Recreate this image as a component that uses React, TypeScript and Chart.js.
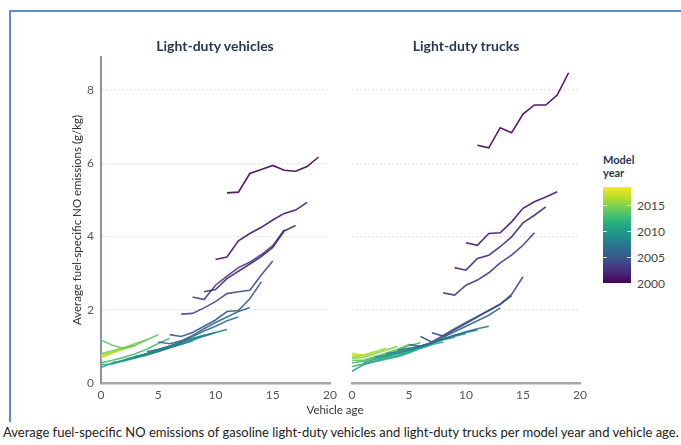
import React, { useEffect, useRef } from "react";
import { Chart, registerables } from "chart.js";

Chart.register(...registerables);

const FONT = "Lato, 'Open Sans', sans-serif";

// Model years and the vehicle age at which each model year's record begins
const MODEL_YEARS = [2000, 2001, 2002, 2003, 2004, 2005, 2006, 2007, 2008, 2009, 2010, 2011, 2012, 2013, 2014, 2015, 2016, 2017, 2018];
const START_AGE = [11, 10, 9, 8, 7, 6, 5, 4, 3, 2, 1, 0, 0, 0, 0, 0, 0, 0, 0];

// Y-axis tick values and x-axis tick step
const Y_TICKS = [0, 2, 4, 6, 8];
const X_TICKS = [0, 5, 10, 15, 20];
const COLORBAR_TICKS = [2015, 2010, 2005, 2000];

// Light-duty vehicles: g/kg NO by age (starting at START_AGE)
const LDV_2000 = [5.19, 5.21, 5.72, 5.83, 5.94, 5.81, 5.78, 5.91, 6.17];
const LDV_2001 = [3.37, 3.44, 3.88, 4.08, 4.25, 4.45, 4.63, 4.72, 4.93];
const LDV_2002 = [2.49, 2.55, 2.85, 3.05, 3.25, 3.45, 3.7, 4.15, 4.3];
const LDV_2003 = [2.35, 2.28, 2.67, 2.92, 3.15, 3.3, 3.5, 3.75, 4.18];
const LDV_2004 = [1.88, 1.9, 2.05, 2.22, 2.44, 2.49, 2.53, 2.95, 3.33];
const LDV_2005 = [1.32, 1.27, 1.38, 1.55, 1.72, 1.95, 1.98, 2.3, 2.76];
const LDV_2006 = [1.12, 1.07, 1.15, 1.3, 1.48, 1.65, 1.8, 1.95, 2.06];
const LDV_2007 = [0.85, 0.92, 1.0, 1.12, 1.27, 1.42, 1.55, 1.7, 1.8];
const LDV_2008 = [0.72, 0.78, 0.86, 0.96, 1.06, 1.17, 1.28, 1.38, 1.46];
const LDV_2009 = [0.63, 0.7, 0.8, 0.9, 1.0, 1.1, 1.22, 1.3, 1.38];
const LDV_2010 = [0.55, 0.62, 0.72, 0.8, 0.9, 1.0, 1.12, 1.2, 1.3];
const LDV_2011 = [0.42, 0.55, 0.6, 0.68, 0.76, 0.86, 0.96, 1.06, 1.15];
const LDV_2012 = [0.5, 0.52, 0.62, 0.7, 0.8, 0.9, 1.0, 1.1];
const LDV_2013 = [0.55, 0.62, 0.7, 0.8, 0.92, 1.08, 1.22];
const LDV_2014 = [1.17, 1.03, 0.94, 1.03, 1.18, 1.32];
const LDV_2015 = [0.8, 0.88, 0.97, 1.08, 1.18];
const LDV_2016 = [0.75, 0.85, 0.95, 1.02];
const LDV_2017 = [0.7, 0.82, 0.92];
const LDV_2018 = [0.68, 0.82];

// Light-duty trucks
const LDT_2000 = [6.49, 6.42, 6.97, 6.83, 7.34, 7.59, 7.59, 7.86, 8.47];
const LDT_2001 = [3.83, 3.76, 4.08, 4.1, 4.4, 4.77, 4.95, 5.08, 5.22];
const LDT_2002 = [3.15, 3.08, 3.4, 3.49, 3.72, 3.99, 4.37, 4.58, 4.81];
const LDT_2003 = [2.46, 2.4, 2.67, 2.81, 3.01, 3.28, 3.49, 3.76, 4.1];
const LDT_2004 = [1.37, 1.28, 1.45, 1.62, 1.8, 1.98, 2.15, 2.42, 2.9];
const LDT_2005 = [1.27, 1.12, 1.3, 1.48, 1.65, 1.82, 1.98, 2.15, 2.38];
const LDT_2006 = [1.05, 1.0, 1.1, 1.25, 1.4, 1.55, 1.7, 1.85, 2.05];
const LDT_2007 = [0.9, 0.95, 1.0, 1.1, 1.2, 1.3, 1.4, 1.48, 1.55];
const LDT_2008 = [0.8, 0.85, 0.92, 1.0, 1.1, 1.2, 1.3, 1.38, 1.45];
const LDT_2009 = [0.7, 0.76, 0.82, 0.9, 1.0, 1.1, 1.2, 1.28, 1.35];
const LDT_2010 = [0.55, 0.65, 0.72, 0.8, 0.88, 0.98, 1.08, 1.18, 1.25];
const LDT_2011 = [0.32, 0.5, 0.6, 0.68, 0.75, 0.85, 0.95, 1.05, 1.12];
const LDT_2012 = [0.45, 0.52, 0.58, 0.65, 0.72, 0.82, 0.95, 1.05];
const LDT_2013 = [0.55, 0.6, 0.68, 0.78, 0.88, 1.02, 1.1];
const LDT_2014 = [0.62, 0.62, 0.72, 0.82, 0.92, 1.05];
const LDT_2015 = [0.68, 0.7, 0.8, 0.9, 1.0];
const LDT_2016 = [0.72, 0.75, 0.85, 0.95];
const LDT_2017 = [0.78, 0.76, 0.86];
const LDT_2018 = [0.82, 0.75];

const LDV_SERIES = [LDV_2000, LDV_2001, LDV_2002, LDV_2003, LDV_2004, LDV_2005, LDV_2006, LDV_2007, LDV_2008, LDV_2009, LDV_2010, LDV_2011, LDV_2012, LDV_2013, LDV_2014, LDV_2015, LDV_2016, LDV_2017, LDV_2018];
const LDT_SERIES = [LDT_2000, LDT_2001, LDT_2002, LDT_2003, LDT_2004, LDT_2005, LDT_2006, LDT_2007, LDT_2008, LDT_2009, LDT_2010, LDT_2011, LDT_2012, LDT_2013, LDT_2014, LDT_2015, LDT_2016, LDT_2017, LDT_2018];

const VIRIDIS = ["#440154", "#482475", "#414487", "#355f8d", "#2a788e", "#21918c", "#22a884", "#44bf70", "#7ad151", "#bddf26", "#fde725"];
const YEAR_MIN = 2000;
const YEAR_MAX = 2018.5;

function hexToRgb(h: string) {
  return [parseInt(h.slice(1, 3), 16), parseInt(h.slice(3, 5), 16), parseInt(h.slice(5, 7), 16)];
}

function viridis(t: number, alpha = 1) {
  const c = Math.max(0, Math.min(1, t)) * (VIRIDIS.length - 1);
  const i = Math.min(VIRIDIS.length - 2, Math.floor(c));
  const f = c - i;
  const a = hexToRgb(VIRIDIS[i]);
  const b = hexToRgb(VIRIDIS[i + 1]);
  const r = a.map((v, k) => Math.round(v + (b[k] - v) * f));
  return `rgba(${r[0]},${r[1]},${r[2]},${alpha})`;
}

function buildDatasets(series: number[][]) {
  return series.map((vals, i) => ({
    label: String(MODEL_YEARS[i]),
    data: vals.map((v, j) => ({ x: START_AGE[i] + j, y: v })),
    borderColor: viridis((MODEL_YEARS[i] - YEAR_MIN) / (YEAR_MAX - YEAR_MIN), 0.9),
    borderWidth: 1.6,
    pointRadius: 0,
    fill: false,
    tension: 0,
  }));
}

function makeOptions(isLeft: boolean): any {
  return {
    animation: false,
    responsive: false,
    maintainAspectRatio: false,
    layout: { padding: { top: 57, right: isLeft ? 15 : 20, bottom: 0, left: 0 } },
    plugins: { legend: { display: false }, tooltip: { enabled: false }, title: { display: false } },
    scales: {
      x: {
        type: "linear",
        min: 0,
        max: 20,
        afterBuildTicks: (s: any) => {
          s.ticks = X_TICKS.map((v) => ({ value: v }));
        },
        ticks: { color: "#555", font: { family: FONT, size: 12 }, padding: 5, maxRotation: 0 },
        grid: { display: false, drawTicks: false },
        border: { display: true, color: "#a8a8a8", width: 2.5 },
        afterFit: (s: any) => {
          s.height = 37;
        },
      },
      y: {
        type: "linear",
        min: 0,
        max: 8.9,
        afterBuildTicks: (s: any) => {
          s.ticks = Y_TICKS.map((v) => ({ value: v }));
        },
        ticks: { display: isLeft, color: "#555", font: { family: FONT, size: 12 }, padding: 7 },
        grid: {
          drawTicks: false,
          lineWidth: 1.2,
          color: (ctx: any) => (ctx.tick && ctx.tick.value === 0 ? "rgba(0,0,0,0)" : "#dcdcdc"),
        },
        border: { display: isLeft, color: "#8c93a6", width: 2, dash: [1.5, 2.5] },
        title: {
          display: isLeft,
          text: "Average fuel-specific NO emissions (g/kg)",
          color: "#333",
          font: { family: FONT, size: 11.5 },
          padding: { top: 70, bottom: 0 },
        },
        afterFit: (s: any) => {
          s.width = isLeft ? 101 : 12;
        },
      },
    },
  };
}

function Panel({ series, isLeft, left, width }: { series: number[][]; isLeft: boolean; left: number; width: number }) {
  const ref = useRef<HTMLCanvasElement | null>(null);
  useEffect(() => {
    if (!ref.current) return;
    const chart = new Chart(ref.current, {
      type: "line",
      data: { datasets: buildDatasets(series) as any },
      options: makeOptions(isLeft),
    });
    return () => chart.destroy();
  }, []);
  return (
    <canvas
      ref={ref}
      width={width}
      height={420}
      style={{ position: "absolute", left, top: 0, width, height: 420 }}
    />
  );
}

const CB_TOP = 187;
const CB_BOTTOM = 283;
const CB_LEFT = 603;
const CB_WIDTH = 28;

function yearToY(y: number) {
  return CB_BOTTOM - ((y - YEAR_MIN) / (YEAR_MAX - YEAR_MIN)) * (CB_BOTTOM - CB_TOP);
}

export default function App() {
  const gradient = `linear-gradient(to top, ${VIRIDIS.join(", ")})`;
  const textBase: React.CSSProperties = { position: "absolute", fontFamily: FONT, whiteSpace: "nowrap" };
  return (
    <div style={{ position: "fixed", left: 0, top: 0, width: 681, height: 445, background: "#fff", overflow: "hidden" }}>
      {/* frame */}
      <div style={{ position: "absolute", left: 9, top: 10, width: 2, height: 412, background: "#5b8bd0" }} />
      <div style={{ position: "absolute", left: 9, top: 10, width: 672, height: 2, background: "#5b8bd0" }} />

      <Panel series={LDV_SERIES} isLeft={true} left={0} width={345} />
      <Panel series={LDT_SERIES} isLeft={false} left={340} width={260} />

      <div style={{ ...textBase, left: 215, top: 45, transform: "translate(-50%, -50%)", fontSize: 14, fontWeight: 700, color: "#2b3650" }}>
        Light-duty vehicles
      </div>
      <div style={{ ...textBase, left: 466, top: 45, transform: "translate(-50%, -50%)", fontSize: 14, fontWeight: 700, color: "#2b3650" }}>
        Light-duty trucks
      </div>
      <div style={{ ...textBase, left: 335, top: 409, transform: "translate(-50%, -50%)", fontSize: 11.5, color: "#333" }}>
        Vehicle age
      </div>

      {/* colour bar */}
      <div style={{ ...textBase, left: CB_LEFT, top: 153, fontSize: 11, fontWeight: 700, color: "#2b3650", lineHeight: "13px" }}>
        Model
        <br />
        year
      </div>
      <div style={{ position: "absolute", left: CB_LEFT, top: CB_TOP, width: CB_WIDTH, height: CB_BOTTOM - CB_TOP, background: gradient }} />
      {COLORBAR_TICKS.map((t) => (
        <React.Fragment key={t}>
          <div style={{ position: "absolute", left: CB_LEFT, top: yearToY(t) - 0.5, width: 4, height: 1, background: "rgba(255,255,255,0.8)" }} />
          <div style={{ position: "absolute", left: CB_LEFT + CB_WIDTH - 4, top: yearToY(t) - 0.5, width: 4, height: 1, background: "rgba(255,255,255,0.8)" }} />
          <div style={{ ...textBase, left: CB_LEFT + CB_WIDTH + 6, top: yearToY(t), transform: "translateY(-50%)", fontSize: 12, color: "#444" }}>
            {t}
          </div>
        </React.Fragment>
      ))}

      <div style={{ ...textBase, left: 3, top: 432, transform: "translateY(-50%)", fontSize: 13, color: "#222" }}>
        Average fuel-specific NO emissions of gasoline light-duty vehicles and light-duty trucks per model year and vehicle age.
      </div>
    </div>
  );
}
